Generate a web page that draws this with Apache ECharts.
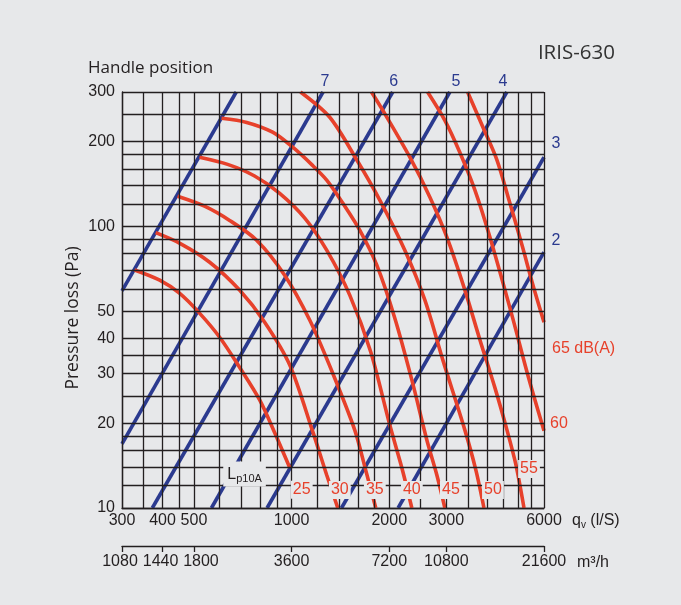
<!DOCTYPE html>
<html>
<head>
<meta charset="utf-8">
<script src="https://cdn.jsdelivr.net/npm/echarts@6/dist/echarts.min.js"></script>
<style>
html, body { margin: 0; padding: 0; background: #e7e8ea; }
#chart { width: 681px; height: 605px; }
</style>
</head>
<body>
<div id="chart"></div>
<script>
// axis ticks and grid
var qTicks = [300, 400, 500, 1000, 2000, 3000, 6000];
var m3hTicks = [1080, 1440, 1800, 3600, 7200, 10800, 21600];
var pTicks = [10, 20, 30, 40, 50, 100, 200, 300];
var qGrid = [300, 350, 400, 450, 500, 600, 700, 800, 900, 1000, 1200, 1400, 1600, 1800, 2000, 2500, 3000, 3500, 4000, 4500, 5000, 5500, 6000];
var pGrid = [10, 12, 14, 16, 18, 20, 25, 30, 35, 40, 50, 60, 70, 80, 90, 100, 120, 140, 160, 180, 200, 250, 300];

// handle positions (blue), [q l/s, dp Pa]
var handleNames = ['', '7', '6', '5', '4', '3', '2'];
var handleLines = [
    [[300, 59], [675, 300]],
    [[300, 16.9], [1250, 300]],
    [[372, 10], [2050, 300]],
    [[566, 10], [3075, 300]],
    [[840, 10], [4610, 300]],
    [[1425, 10], [6000, 176]],
    [[2130, 10], [6000, 81]]
];

// sound level curves (red)
var soundLevels = [25, 30, 35, 40, 45, 50, 55, 60, 65];
var db25 = [[328, 70], [392, 64.4], [451, 57.9], [520, 49.2], [600, 40.4], [691, 31.6], [797, 24.2], [887, 18.5], [987, 13.9]];
var db30 = [[381, 95], [451, 87.2], [559, 74.6], [691, 59.4], [826, 45.7], [987, 32.2], [1158, 18.9], [1283, 13.1], [1388, 10]];
var db35 = [[445, 128], [539, 118], [644, 105], [780, 89.3], [952, 67.1], [1137, 46.5], [1339, 30.1], [1566, 18.9], [1693, 13.6], [1818, 10]];
var db40 = [[520, 176], [635, 166], [769, 151], [919, 131], [1098, 107], [1283, 82.3], [1511, 57], [1754, 35.8], [2008, 19.7], [2187, 13.9], [2348, 10]];
var db45 = [[608, 242], [727, 234], [874, 216], [1008, 191], [1158, 165], [1283, 146], [1438, 121], [1622, 97], [1831, 72.8], [2081, 47.2], [2348, 28.5], [2613, 17.4], [2804, 13.1], [2969, 10]];
var db50 = [[1065, 300], [1311, 244], [1589, 172], [1870, 124], [2234, 82.3], [2576, 54.7], [2927, 33.5], [3422, 18.9], [3701, 13.6], [3918, 10]];
var db55 = [[1763, 300], [1911, 258], [2315, 176], [2669, 127], [3011, 91.6], [3422, 59.4], [3808, 39.5], [4236, 26.7], [4614, 18.9], [4918, 14.2], [5206, 10]];
var db60 = [[2626, 300], [2968, 238], [3302, 183], [3674, 134.5], [4086, 91.6], [4777, 48.4], [5351, 29.6], [6000, 18.8]];
var db65 = [[3488, 300], [3890, 225], [4297, 172], [4709, 121], [5132, 85.8], [5549, 61.8], [6000, 45.7]];
var soundCurves = [db25, db30, db35, db40, db45, db50, db55, db60, db65];

var noteAt = [716, 13.2]; // L p10A note

var bg = '#e7e8ea';
var ink = '#231f20';
var blue = '#2b3a8f';
var red = '#e7412b';
var numFont = 'Liberation Sans';
var txtFont = 'Open Sans';

// label offsets (px) from line ends
var handleTagOffset = [null, [2, -10], [1, -10], [6, -10], [-4, -10], [12, -14], [12, -12]];
var soundTagOffset = [[12, 22], [2, -18], [-1, -18], [0, -18], [6, -18], [9, -18], [5, -39], [6, -7], [8, 26]];

var dom = document.getElementById('chart');
var myChart = echarts.init(dom, null, { renderer: 'canvas' });

var series = [];

// grid lines
series.push({
    type: 'line',
    name: 'grid',
    data: [],
    silent: true,
    z: 1,
    markLine: {
        silent: true,
        symbol: ['none', 'none'],
        label: { show: false },
        lineStyle: { color: ink, width: 1.3, type: 'solid' },
        data: qGrid.map(function (v) { return { xAxis: v }; })
            .concat(pGrid.map(function (v) { return { yAxis: v }; }))
    }
});

handleLines.forEach(function (pts, i) {
    series.push({
        type: 'line',
        name: 'pos ' + handleNames[i],
        data: pts,
        symbol: 'none',
        silent: true,
        z: 3,
        lineStyle: { color: blue, width: 3.6 }
    });
});

soundCurves.forEach(function (pts, i) {
    series.push({
        type: 'line',
        name: soundLevels[i] + ' dB(A)',
        data: pts,
        symbol: 'none',
        smooth: 0.3,
        silent: true,
        z: 4,
        lineStyle: { color: red, width: 3.6 }
    });
});

var tagItem = { color: 'rgba(0,0,0,0)', opacity: 1 };

// blue tags
var handleTags = [];
handleLines.forEach(function (pts, i) {
    if (!handleNames[i]) return;
    handleTags.push({
        value: pts[pts.length - 1],
        label: { formatter: handleNames[i], offset: handleTagOffset[i] }
    });
});
series.push({
    type: 'scatter',
    data: handleTags,
    symbolSize: 1,
    clip: false,
    silent: true,
    z: 10,
    itemStyle: tagItem,
    label: {
        show: true,
        position: 'inside',
        color: blue,
        fontFamily: numFont,
        fontSize: 16
    }
});

// red tags
var soundTags = soundCurves.map(function (pts, i) {
    var last = i === 8;
    var side = i >= 7;
    return {
        value: pts[pts.length - 1],
        label: {
            formatter: last ? soundLevels[i] + ' dB(A)' : String(soundLevels[i]),
            offset: soundTagOffset[i],
            align: side ? 'left' : 'center',
            backgroundColor: side ? 'transparent' : bg,
            padding: side ? 0 : [1, 2]
        }
    };
});
series.push({
    type: 'scatter',
    data: soundTags,
    symbolSize: 1,
    clip: false,
    silent: true,
    z: 11,
    itemStyle: tagItem,
    label: {
        show: true,
        position: 'inside',
        color: red,
        fontFamily: numFont,
        fontSize: 16
    }
});

// L p10A note
series.push({
    type: 'scatter',
    data: [noteAt],
    symbolSize: 1,
    clip: false,
    silent: true,
    z: 11,
    itemStyle: tagItem,
    label: {
        show: true,
        position: 'inside',
        formatter: '{a|L}{b|p10A}',
        backgroundColor: bg,
        padding: [3, 4, 2, 4],
        rich: {
            a: { fontFamily: numFont, fontSize: 16, color: ink, lineHeight: 20, verticalAlign: 'middle' },
            b: { fontFamily: numFont, fontSize: 11, color: ink, lineHeight: 20, verticalAlign: 'bottom' }
        }
    }
});

function plainNum(v) { return String(Math.round(v)); }

// the printed m3/h labels sit a little off their ticks
function m3hLabel(v) {
    var k = Math.round(v);
    if (k === 1800) return '{r|' + k + '}';
    if (k === 1080 || k === 1440) return '{l|' + k + '}';
    return String(k);
}

option = {
    backgroundColor: bg,
    animation: false,
    textStyle: { fontFamily: numFont },
    grid: { left: 122, top: 92, right: 137, bottom: 97 },
    xAxis: [
        {
            type: 'log',
            logBase: 10,
            min: 300,
            max: 6000,
            axisLine: { show: true, onZero: false, lineStyle: { color: ink, width: 1.3 } },
            axisTick: { show: false },
            splitLine: { show: false },
            axisLabel: {
                customValues: qTicks,
                formatter: plainNum,
                color: ink,
                fontSize: 16,
                margin: 5
            }
        },
        {
            type: 'log',
            logBase: 10,
            min: 1080,
            max: 21600,
            position: 'bottom',
            offset: 38,
            axisLine: { show: true, onZero: false, lineStyle: { color: ink, width: 1.3 } },
            axisTick: { show: true, customValues: m3hTicks, length: 6, lineStyle: { color: ink, width: 1.3 } },
            splitLine: { show: false },
            axisLabel: {
                customValues: m3hTicks,
                formatter: m3hLabel,
                color: ink,
                fontSize: 16,
                margin: 8,
                rich: {
                    r: { fontSize: 16, color: ink, padding: [0, 0, 0, 14] },
                    l: { fontSize: 16, color: ink, padding: [0, 4, 0, 0] }
                }
            }
        }
    ],
    yAxis: {
        type: 'log',
        logBase: 10,
        min: 10,
        max: 300,
        axisLine: { show: true, onZero: false, lineStyle: { color: ink, width: 1.3 } },
        axisTick: { show: false },
        splitLine: { show: false },
        axisLabel: {
            customValues: pTicks,
            formatter: plainNum,
            color: ink,
            fontSize: 16,
            margin: 7
        }
    },
    graphic: [
        {
            type: 'text', x: 88, y: 68,
            style: { text: 'Handle position', fontFamily: txtFont, fontSize: 17, fill: ink, align: 'left', verticalAlign: 'middle' }
        },
        {
            type: 'text', x: 615, y: 53,
            style: { text: 'IRIS-630', fontFamily: txtFont, fontSize: 20.5, fill: '#333', align: 'right', verticalAlign: 'middle' }
        },
        {
            type: 'text', x: 73, y: 318, rotation: Math.PI / 2,
            style: { text: 'Pressure loss (Pa)', fontFamily: txtFont, fontSize: 17.5, fill: ink, align: 'center', verticalAlign: 'middle' }
        },
        {
            type: 'text', x: 572, y: 521,
            style: {
                text: '{a|q}{b|v}{a| (l/S)}',
                align: 'left', verticalAlign: 'middle',
                rich: {
                    a: { fontFamily: numFont, fontSize: 16, fill: ink, lineHeight: 18, verticalAlign: 'middle' },
                    b: { fontFamily: numFont, fontSize: 10, fill: ink, lineHeight: 18, verticalAlign: 'bottom' }
                }
            }
        },
        {
            type: 'text', x: 577, y: 563,
            style: { text: 'm³/h', fontFamily: numFont, fontSize: 16, fill: ink, align: 'left', verticalAlign: 'middle' }
        }
    ],
    series: series
};

myChart.setOption(option);
</script>
</body>
</html>
